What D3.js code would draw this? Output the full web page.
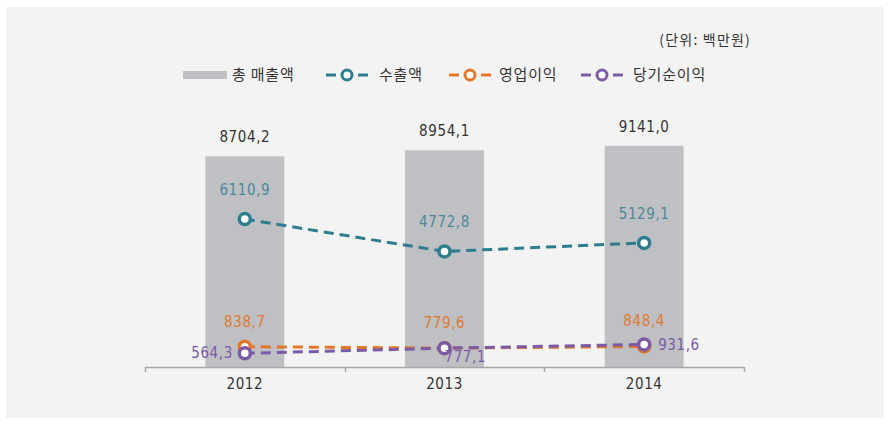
<!DOCTYPE html>
<html><head><meta charset="utf-8">
<script src="https://cdn.jsdelivr.net/npm/d3@7"></script>
<style>
html,body{margin:0;padding:0;background:#fff;}
svg text{font-family:"Noto Sans CJK KR","Noto Sans",sans-serif;}
svg text.num{font-family:"DejaVu Sans Condensed","Roboto",sans-serif;}
</style></head>
<body><svg id="c" width="889" height="429"></svg>
<script>
const years = ["2012","2013","2014"];
const totalSales = [8704.2, 8954.1, 9141.0];
const exports = [6110.9, 4772.8, 5129.1];
const operatingProfit = [838.7, 779.6, 848.4];
const netProfit = [564.3, 777.1, 931.6];
const legendLabels = ["총 매출액","수출액","영업이익","당기순이익"];
const unitLabel = "(단위:  백만원)";

const svg = d3.select("#c");
svg.append("rect").attr("x",6).attr("y",7).attr("width",878).attr("height",411).attr("fill","#f3f3f3");

const x = d3.scaleBand().domain(years).range([145,744]).paddingInner(0.605).paddingOuter(0.3025);
const y = d3.scaleLinear().domain([0,10000]).range([367,125]);
const cx = d => x(d) + x.bandwidth()/2;
const fmt = v => v.toFixed(1).replace(".", ",");

const cTeal="#2d7d8f", cOrange="#e2772a", cPurple="#7b5ba5", cBar="#bfc0c4";
const numSize = 15, numLS = 0.6;

// bars
svg.selectAll(".bar").data(years).join("rect")
  .attr("x", d=>x(d)).attr("width", x.bandwidth())
  .attr("y", (d,i)=>y(totalSales[i])).attr("height",(d,i)=>y(0)-y(totalSales[i]))
  .attr("fill", cBar);

// axis
const axisG = svg.append("g");
axisG.append("line").attr("x1",145).attr("x2",744).attr("y1",367.5).attr("y2",367.5).attr("stroke","#a7a7a7").attr("stroke-width",1.5);
const bounds = [145].concat(years.map(d=>x(d)+x.bandwidth()+x.step()*x.paddingInner()/2));
axisG.selectAll(".tk").data(bounds).join("line")
  .attr("x1",d=>Math.round(d)+0.5).attr("x2",d=>Math.round(d)+0.5).attr("y1",367).attr("y2",372)
  .attr("stroke","#a7a7a7").attr("stroke-width",1.5);
axisG.selectAll(".yl").data(years).join("text").attr("class","num")
  .attr("x",cx).attr("y",389).attr("text-anchor","middle")
  .attr("font-size",numSize).attr("letter-spacing",numLS).attr("fill","#333").text(d=>d);

// lines
function series(vals,color){
  const line = d3.line().x((d,i)=>cx(years[i])).y(d=>y(d));
  svg.append("path").datum(vals).attr("d",line).attr("fill","none")
    .attr("stroke",color).attr("stroke-width",3).attr("stroke-dasharray","10,6");
  svg.selectAll(null).data(vals).join("circle")
    .attr("cx",(d,i)=>cx(years[i])).attr("cy",d=>y(d)).attr("r",5.5)
    .attr("fill","#fff").attr("stroke",color).attr("stroke-width",3.5);
}
series(exports,cTeal);
series(operatingProfit,cOrange);
series(netProfit,cPurple);

// labels
function labels(vals, color, dx, dy, anchor){
  svg.selectAll(null).data(vals).join("text").attr("class","num")
    .attr("x",(d,i)=>cx(years[i])+dx[i]).attr("y",(d,i)=>y(d)+dy[i])
    .attr("text-anchor",(d,i)=>anchor[i]).attr("font-size",numSize).attr("letter-spacing",numLS)
    .attr("fill",color).text(fmt);
}
labels(totalSales,"#333",[0,0,0],[-14,-14,-14],["middle","middle","middle"]);
labels(exports,"#4a8899",[0,0,0],[-24,-24,-24],["middle","middle","middle"]);
labels(operatingProfit,"#e07a30",[0,0,0],[-20,-20,-20],["middle","middle","middle"]);
labels(netProfit,cPurple,[-12,0,14],[5,14,6],["end","start","start"]);

// unit
svg.append("text").attr("x",751).attr("y",45).attr("text-anchor","end")
  .attr("font-size",14).attr("letter-spacing",1.2).attr("fill","#333").text(unitLabel);

// legend
const ly = 75;
svg.append("rect").attr("x",183).attr("y",ly-4).attr("width",44).attr("height",8).attr("fill",cBar);
svg.append("text").attr("x",232).attr("y",ly+5).attr("font-size",15).attr("letter-spacing",0.8).attr("fill","#333").text(legendLabels[0]);
const legItems = [[326,cTeal,379,legendLabels[1]],[449,cOrange,499,legendLabels[2]],[581,cPurple,633,legendLabels[3]]];
legItems.forEach(([lx,col,tx,lab])=>{
  svg.append("line").attr("x1",lx).attr("x2",lx+10).attr("y1",ly).attr("y2",ly).attr("stroke",col).attr("stroke-width",3);
  svg.append("line").attr("x1",lx+32).attr("x2",lx+42).attr("y1",ly).attr("y2",ly).attr("stroke",col).attr("stroke-width",3);
  svg.append("circle").attr("cx",lx+21).attr("cy",ly).attr("r",5).attr("fill","#fff").attr("stroke",col).attr("stroke-width",3);
  svg.append("text").attr("x",tx).attr("y",ly+5).attr("font-size",15).attr("letter-spacing",0.8).attr("fill","#333").text(lab);
});
</script></body></html>
